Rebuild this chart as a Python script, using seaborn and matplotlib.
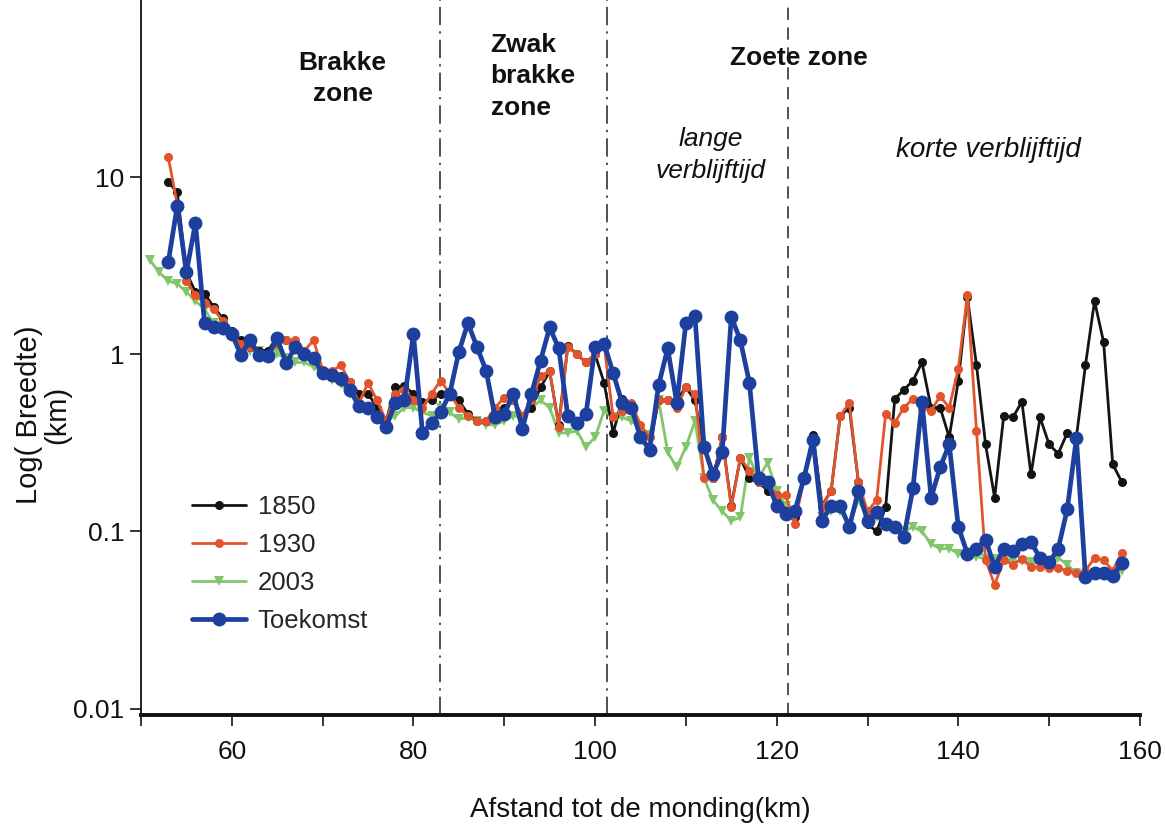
import numpy as np
import pandas as pd
import matplotlib
matplotlib.use("Agg")
import matplotlib.pyplot as plt
import seaborn as sns
from matplotlib.ticker import FixedLocator, FuncFormatter

nan = np.nan

# afstand tot de monding (km)
km = list(range(51, 159))

breedte_1850 = [nan, nan,
    9.4, 8.2, 2.9, 2.25, 2.2, 1.85, 1.6, 1.35, 1.2, 1.1, 1.05, 1.05, 1.25, 1.2, 1.1, 1.0, 0.95, 0.8,
    0.78, 0.75, 0.7, 0.6, 0.6, 0.5, 0.42, 0.65, 0.66, 0.6, 0.54, 0.55, 0.6, 0.61, 0.55, 0.46, 0.42, 0.42, 0.45, 0.5,
    0.55, 0.45, 0.5, 0.65, 0.8, 0.4, 1.12, 1.0, 0.9, 1.0, 0.69, 0.36, 0.56, 0.5, 0.34, 0.3, 0.55, 0.55, 0.55, 0.65,
    0.55, 0.3, 0.2, 0.34, 0.14, 0.26, 0.2, 0.19, 0.17, 0.16, 0.13, 0.12, 0.2, 0.35, 0.14, 0.17, 0.45, 0.5, 0.19, 0.11,
    0.1, 0.137, 0.56, 0.63, 0.71, 0.9, 0.5, 0.5, 0.34, 0.71, 2.1, 0.87, 0.31, 0.155, 0.45, 0.44, 0.54, 0.21, 0.44, 0.31,
    0.275, 0.36, 0.34, 0.87, 2.0, 1.17, 0.24, 0.19]

breedte_1930 = [nan, nan,
    13.0, 7.0, 2.6, 2.15, 1.95, 1.8, 1.55, 1.3, 1.15, 1.1, 1.0, 1.0, 1.15, 1.2, 1.2, 1.05, 1.2, 0.82,
    0.8, 0.87, 0.7, 0.53, 0.69, 0.55, 0.42, 0.6, 0.63, 0.55, 0.5, 0.6, 0.71, 0.6, 0.5, 0.45, 0.42, 0.42, 0.5, 0.57,
    0.55, 0.45, 0.55, 0.75, 0.81, 0.39, 1.1, 1.0, 0.9, 1.0, 1.12, 0.44, 0.48, 0.53, 0.4, 0.34, 0.55, 0.55, 0.5, 0.65,
    0.6, 0.2, 0.2, 0.34, 0.137, 0.26, 0.22, 0.19, 0.19, 0.16, 0.16, 0.11, 0.2, 0.32, 0.137, 0.17, 0.45, 0.53, 0.19, 0.13,
    0.15, 0.46, 0.41, 0.5, 0.56, 0.5, 0.48, 0.58, 0.5, 0.83, 2.15, 0.37, 0.069, 0.05, 0.069, 0.065, 0.07, 0.063, 0.063, 0.062,
    0.062, 0.06, 0.058, 0.06, 0.071, 0.069, 0.06, 0.076]

breedte_2003 = [3.4, 2.9,
    2.6, 2.5, 2.25, 2.0, 1.8, 1.5, 1.35, 1.25, 1.15, 1.05, 1.05, 1.0, 1.0, 0.95, 0.9, 0.9, 0.85, 0.78,
    0.72, 0.68, 0.6, 0.55, 0.5, 0.45, 0.42, 0.45, 0.5, 0.5, 0.47, 0.45, 0.5, 0.47, 0.43, 0.44, 0.42, 0.4, 0.4, 0.42,
    0.45, 0.44, 0.5, 0.55, 0.5, 0.36, 0.36, 0.37, 0.3, 0.34, 0.48, 0.44, 0.44, 0.42, 0.38, 0.35, 0.55, 0.28, 0.23, 0.3,
    0.42, 0.2, 0.15, 0.13, 0.115, 0.12, 0.26, 0.2, 0.245, 0.17, 0.14, 0.12, 0.2, 0.3, 0.12, 0.13, 0.13, 0.11, 0.15, 0.12,
    0.12, 0.11, 0.105, 0.1, 0.106, 0.1, 0.085, 0.08, 0.08, 0.075, 0.072, 0.072, 0.07, 0.07, 0.07, 0.068, 0.068, 0.067, 0.066, 0.065,
    0.071, 0.065, 0.058, 0.057, 0.058, 0.057, 0.058, 0.06]

breedte_toekomst = [nan, nan,
    3.3, 6.9, 2.9, 5.5, 1.5, 1.42, 1.4, 1.31, 0.99, 1.2, 0.99, 0.98, 1.23, 0.89, 1.1, 1.0, 0.95, 0.78,
    0.76, 0.73, 0.63, 0.51, 0.5, 0.44, 0.39, 0.53, 0.55, 1.3, 0.36, 0.41, 0.47, 0.6, 1.03, 1.5, 1.1, 0.81, 0.44, 0.46,
    0.6, 0.38, 0.6, 0.92, 1.42, 1.08, 0.45, 0.41, 0.46, 1.1, 1.15, 0.78, 0.53, 0.5, 0.34, 0.29, 0.67, 1.08, 0.53, 1.5,
    1.65, 0.3, 0.21, 0.28, 1.63, 1.2, 0.69, 0.2, 0.19, 0.14, 0.126, 0.13, 0.2, 0.33, 0.115, 0.14, 0.14, 0.106, 0.17, 0.115,
    0.128, 0.11, 0.106, 0.093, 0.175, 0.54, 0.155, 0.23, 0.31, 0.106, 0.075, 0.08, 0.09, 0.063, 0.08, 0.078, 0.085, 0.087, 0.071, 0.067,
    0.08, 0.134, 0.335, 0.055, 0.058, 0.058, 0.056, 0.066]

series = ["1850", "1930", "2003", "Toekomst"]
grenzen = [82.9, 101.3, 121.3]

sns.set_theme(style="white")
plt.rcParams["font.family"] = ["Liberation Sans", "DejaVu Sans"]

fig = plt.figure(figsize=(11.65, 8.25), dpi=100)
ax = fig.add_axes([0.121, 0.1333, 0.8575, 0.8667])

df = pd.DataFrame({"km": km, "1850": breedte_1850, "1930": breedte_1930,
                   "2003": breedte_2003, "Toekomst": breedte_toekomst})

stijl = {
    "1850": dict(color="#141414", marker="o", markersize=6.5, linewidth=2, zorder=3),
    "1930": dict(color="#e2552c", marker="o", markersize=6.5, linewidth=2, zorder=4),
    "2003": dict(color="#82c66c", marker="v", markersize=7, linewidth=2, zorder=2),
    "Toekomst": dict(color="#1d3f9e", marker="o", markersize=10, linewidth=3.4, zorder=5),
}

for s in series:
    d = df[["km", s]].dropna()
    sns.lineplot(x=d["km"], y=d[s], ax=ax, label=s, markeredgewidth=0, **stijl[s])

for i, g in enumerate(grenzen):
    ls = (0, (8, 5)) if i == 2 else (0, (12, 4, 1.5, 4))
    ax.axvline(g, color="#222222", linewidth=1.1, linestyle=ls, zorder=1)

ax.set_yscale("log")
ax.set_ylim(0.0092, 100)
ax.set_xlim(50, 160)
ax.yaxis.set_major_locator(FixedLocator([0.01, 0.1, 1, 10]))
ax.yaxis.set_minor_locator(FixedLocator([]))
ax.yaxis.set_major_formatter(FuncFormatter(lambda v, p: f"{v:g}"))
ax.set_xticks(range(50, 161, 10))
ax.set_xticklabels(["" if t % 20 else str(t) for t in range(50, 161, 10)])

for side in ["top", "right"]:
    ax.spines[side].set_visible(False)
ax.spines["left"].set_linewidth(1.3)
ax.spines["bottom"].set_linewidth(2.8)
for side in ["left", "bottom"]:
    ax.spines[side].set_color("#111111")
ax.tick_params(axis="both", direction="out", length=8, width=1.2, color="#111111",
               labelcolor="#111111", left=True, bottom=True)
ax.tick_params(axis="y", labelsize=19, pad=4)
ax.tick_params(axis="x", labelsize=19, pad=10)

ax.set_xlabel("Afstand tot de monding(km)", fontsize=20, labelpad=24, color="#111111")
ax.set_ylabel("Log( Breedte)\n(km)", fontsize=21, color="#111111", linespacing=1.0)
ax.yaxis.set_label_coords(-0.07, 0.42)

tk = dict(fontsize=19, color="#111111", linespacing=1.4)
ax.text(72.2, 36, "Brakke\nzone", ha="center", va="center", fontweight="bold", **tk)
ax.text(88.5, 37, "Zwak\nbrakke\nzone", ha="left", va="center", fontweight="bold", **tk)
ax.text(122.4, 47, "Zoete zone", ha="center", va="center", fontweight="bold", **tk)
ax.text(112.7, 13.3, "lange\nverblijftijd", ha="center", va="center", style="italic", **tk)
ax.text(143.3, 14.2, "korte verblijftijd", ha="center", va="center", style="italic",
        fontsize=20, color="#111111")

ax.legend(loc="upper left", bbox_to_anchor=(0.028, 0.34), frameon=False, fontsize=18.5,
          handlelength=2.1, labelspacing=0.55, handletextpad=0.45)

fig.savefig("out.png", dpi=100)
